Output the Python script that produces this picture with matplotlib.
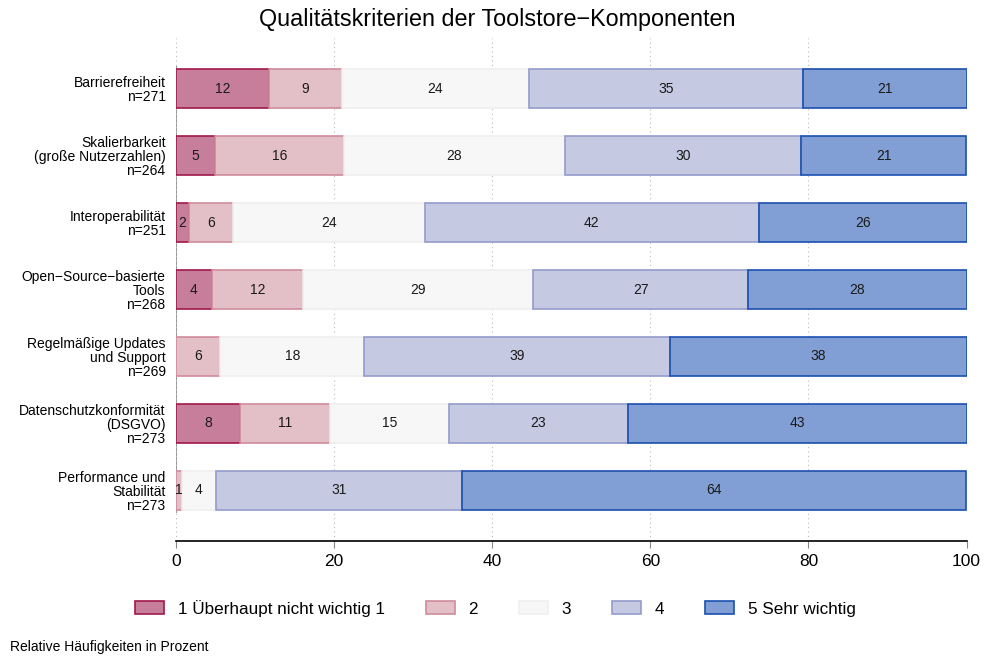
import matplotlib.pyplot as plt
from matplotlib.patches import Patch

plt.rcParams['font.family'] = ['Liberation Sans', 'DejaVu Sans']

# Kategorien (von oben nach unten)
items = ["Barrierefreiheit\nn=271",
         "Skalierbarkeit\n(große Nutzerzahlen)\nn=264",
         "Interoperabilität\nn=251",
         "Open−Source−basierte\nTools\nn=268",
         "Regelmäßige Updates\nund Support\nn=269",
         "Datenschutzkonformität\n(DSGVO)\nn=273",
         "Performance und\nStabilität\nn=273"]

legend_labels = ["1 Überhaupt nicht wichtig 1", "2", "3", "4", "5 Sehr wichtig"]

# Relative Häufigkeiten in Prozent je Antwortstufe
p1 = [11.8, 4.9, 1.6, 4.5, 0.0, 8.1, 0.0]
p2 = [9.2, 16.3, 5.6, 11.6, 5.6, 11.4, 0.7]
p3 = [23.6, 28.0, 24.3, 29.1, 18.2, 15.0, 4.4]
p4 = [34.7, 29.9, 42.2, 27.2, 38.7, 22.7, 31.1]
p5 = [20.7, 20.8, 26.3, 27.6, 37.5, 42.9, 63.7]

fills = ["#C67E9A", "#E3C0C8", "#F7F7F7", "#C5C9E1", "#819FD4"]
edges = ["#A0194A", "#CF8C9C", "#EFEFEF", "#949CCB", "#1B4FAE"]

fig = plt.figure(figsize=(9.85, 6.56), dpi=100)
ax = fig.add_axes([0.1787, 0.1753, 0.8026, 0.7667])

ypos = list(range(len(items)))
left = [0.0] * len(items)
for vals, fc, ec in zip([p1, p2, p3, p4, p5], fills, edges):
    ax.barh(ypos, vals, left=left, height=0.58, color=fc, edgecolor=ec,
            linewidth=1.2, zorder=2)
    for y, v, l in zip(ypos, vals, left):
        if v > 0:
            ax.text(l + v / 2, y, f"{round(v):d}", ha='center', va='center',
                    fontsize=10, color='#1a1a1a', zorder=3)
    left = [a + b for a, b in zip(left, vals)]

# Referenzlinie bei 0
ax.plot([0, 0], [-0.32, 6.32], color='#999999', linewidth=1.5, zorder=1)

ax.set_xlim(0, 100)
ax.set_ylim(6.76, -0.76)
ax.set_xticks([0, 20, 40, 60, 80, 100])
ax.set_yticks(ypos)
ax.set_yticklabels(items, fontsize=10, linespacing=1.0)
ax.tick_params(axis='y', length=0, pad=7.5)
ax.tick_params(axis='x', labelsize=12.5, color='#888888', length=5, pad=4)
ax.grid(True, axis='x', linestyle=(0, (1, 3)), color='#bbbbbb', linewidth=0.8, zorder=0)
for s in ['top', 'right', 'left']:
    ax.spines[s].set_visible(False)
ax.spines['bottom'].set_linewidth(1.2)

fig.suptitle("Qualitätskriterien der Toolstore−Komponenten", x=0.505, y=0.988,
             fontsize=16.8)

handles = [Patch(facecolor=fc, edgecolor=ec, linewidth=1.2) for fc, ec in zip(fills, edges)]
fig.legend(handles, legend_labels, loc='center', bbox_to_anchor=(0.503, 0.073), ncol=5,
           frameon=False, fontsize=12.3, handlelength=1.7, handleheight=0.85,
           handletextpad=0.8, columnspacing=2.4)

fig.text(0.01, 0.008, "Relative Häufigkeiten in Prozent", fontsize=10)

plt.savefig("out.png", dpi=100)
